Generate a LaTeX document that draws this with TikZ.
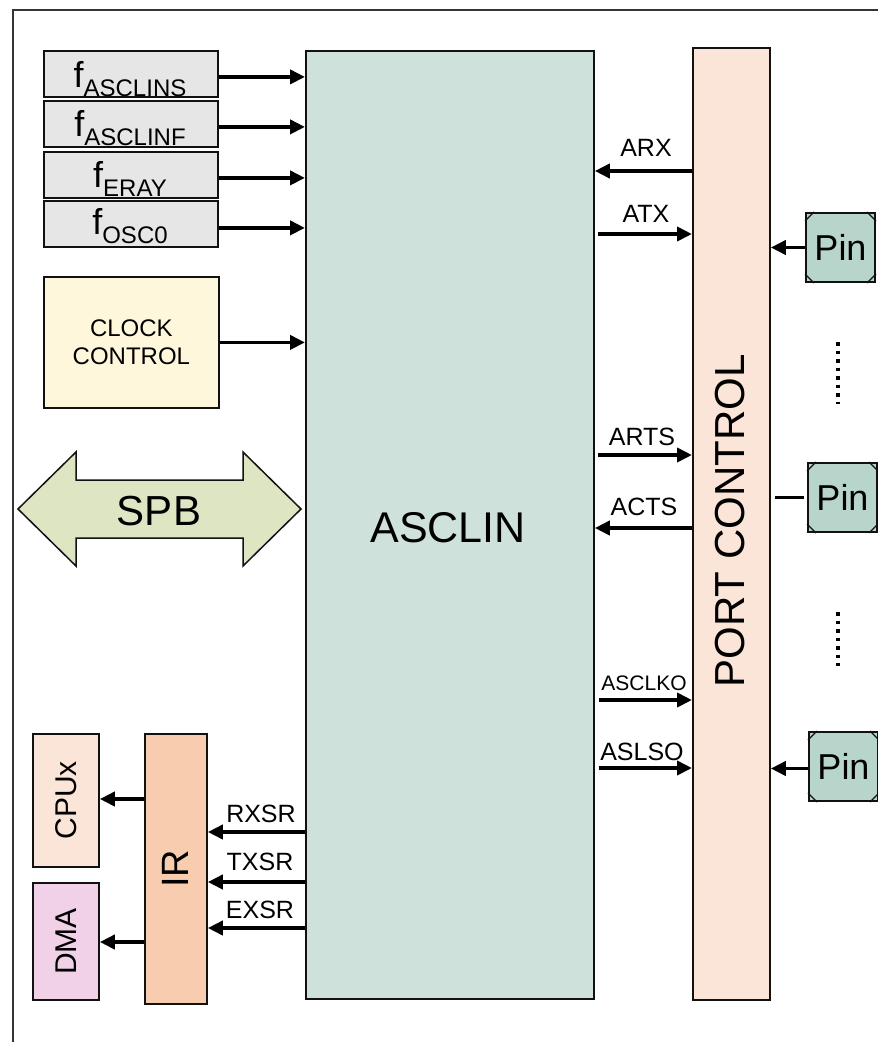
\documentclass[tikz,border=0pt]{standalone}
\usepackage{fontspec}
\setmainfont{Liberation Sans}
\usetikzlibrary{arrows.meta}
\definecolor{fgray}{HTML}{E6E6E6}
\definecolor{clk}{HTML}{FFF7DC}
\definecolor{spbc}{HTML}{DDE5C3}
\definecolor{asc}{HTML}{CEE2DB}
\definecolor{portc}{HTML}{FBE5D8}
\definecolor{pinc}{HTML}{B8D5CC}
\definecolor{irc}{HTML}{F8CCAE}
\definecolor{dmac}{HTML}{F1D1E7}
\definecolor{bord}{HTML}{111111}
\newcommand\fsubtxt[2]{\fontsize{36}{36}\selectfont #1\raisebox{-9pt}{\fontsize{24}{24}\selectfont #2}}
\begin{document}
\begin{tikzpicture}[x=1pt,y=-1pt,
 box/.style={draw=bord,line width=1.8pt,inner sep=0pt,anchor=north west},
 arr/.style={line width=3.8pt,-{Triangle[length=15pt,width=14pt]}},
 fnt/.style={font=\fontsize{#1}{#1}\selectfont},
 sig/.style={font=\fontsize{25}{25}\selectfont,anchor=base,inner sep=0pt},
 pinbox/.style={box,fill=pinc,draw=bord,line width=2pt,minimum width=69pt,minimum height=69pt,fnt=36},
 dots/.style={line width=3.5pt,dash pattern=on 3.5pt off 5pt}
]
\useasboundingbox (0,0) rectangle (878,1042);
% outer frame
\draw[line width=1.6pt,draw=bord!85] (878,10) -- (13,10) -- (13,1042);

% main blocks
\node[box,fill=asc,minimum width=288pt,minimum height=948pt] (asclin) at (305,50) {};
\node[fnt=43,anchor=base,inner sep=0pt] (asclintxt) at (448,542) {ASCLIN};
\node[box,fill=portc,minimum width=77pt,minimum height=952pt] (port) at (692,47) {};
\node[fnt=42,rotate=90,inner sep=0pt] (porttxt) at (730.5,521) {PORT CONTROL};

% clock sources
\node[box,fill=fgray,minimum width=174pt,minimum height=46pt] (fs) at (43,50) {};
\node[box,fill=fgray,minimum width=174pt,minimum height=46pt] (ff) at (43,100) {};
\node[box,fill=fgray,minimum width=174pt,minimum height=46pt] (fe) at (43,151) {};
\node[box,fill=fgray,minimum width=174pt,minimum height=46pt] (fo) at (43,200) {};
\node[anchor=base,inner sep=0pt] (fstxt) at (130,87) {\fsubtxt{f}{ASCLINS}};
\node[anchor=base,inner sep=0pt] (fftxt) at (130,136) {\fsubtxt{f}{ASCLINF}};
\node[anchor=base,inner sep=0pt] (fetxt) at (130,187) {\fsubtxt{f}{ERAY}};
\node[anchor=base,inner sep=0pt] (fotxt) at (130,234) {\fsubtxt{f}{OSC0}};
\draw[arr] ([yshift=-3pt]fs.east) -- ([yshift=-3pt]fs.east -| asclin.west);
\draw[arr] ([yshift=-3pt]ff.east) -- ([yshift=-3pt]ff.east -| asclin.west);
\draw[arr] ([yshift=-3pt]fe.east) -- ([yshift=-3pt]fe.east -| asclin.west);
\draw[arr] ([yshift=-4pt]fo.east) -- ([yshift=-4pt]fo.east -| asclin.west);

% clock control
\node[box,fill=clk,minimum width=175pt,minimum height=131pt,fnt=24,align=center] (clock) at (43,276) {CLOCK\\[4pt]CONTROL};
\draw[arr] (clock.east) -- (clock.east -| asclin.west);

% SPB
\draw[draw=bord,line width=1.5pt,fill=spbc] (18,509) -- (76,452) -- (76,480) -- (243,480) -- (243,452) -- (301,509) -- (243,566) -- (243,538) -- (76,538) -- (76,566) -- cycle;
\node[fnt=42,anchor=base,inner sep=0pt] (spb) at (159,525) {SPB};

% port signals
\draw[arr] (port.west |- 0,171) -- (asclin.east |- 0,171);
\node[sig] (arx) at (646,156) {ARX};
\draw[arr] ([xshift=3pt]asclin.east |- 0,234) -- (port.west |- 0,234);
\node[sig] (atx) at (646,222) {ATX};
\draw[arr] ([xshift=3pt]asclin.east |- 0,455) -- (port.west |- 0,455);
\node[sig] (arts) at (642,445) {ARTS};
\draw[arr] (port.west |- 0,528) -- (asclin.east |- 0,528);
\node[sig] (acts) at (644,515) {ACTS};
\draw[arr] ([xshift=4pt]asclin.east |- 0,700) -- (port.west |- 0,700);
\node[sig,font=\fontsize{21}{21}\selectfont] (asclko) at (644,690) {ASCLKO};
\draw[arr] ([xshift=4pt]asclin.east |- 0,768) -- (port.west |- 0,768);
\node[sig] (aslso) at (642,760) {ASLSO};

% pins
\node[pinbox] (p1) at (805,212) {Pin};
\node[pinbox] (p2) at (807,462) {Pin};
\node[pinbox] (p3) at (808,731) {Pin};
\foreach \p in {p1,p2,p3}{
  \draw[line width=1.2pt,draw=bord] ([yshift=-9pt]\p.north west) -- ([xshift=9pt]\p.north west);
  \draw[line width=1.2pt,draw=bord] ([yshift=-9pt]\p.north east) -- ([xshift=-9pt]\p.north east);
  \draw[line width=1.2pt,draw=bord] ([yshift=9pt]\p.south west) -- ([xshift=9pt]\p.south west);
  \draw[line width=1.2pt,draw=bord] ([yshift=9pt]\p.south east) -- ([xshift=-9pt]\p.south east);
}
\draw[arr] (p1.west) -- (p1.west -| port.east);
\draw[line width=3.8pt] ([xshift=-3pt]p2.west) -- ([xshift=4pt]p2.west -| port.east);
\draw[arr] ([yshift=-2pt]p3.west) -- ([yshift=-2pt]p3.west -| port.east);
\draw[dots] (838,342) -- (838,404);
\draw[dots] (838,612) -- (838,666);

% interrupt router
\node[box,fill=portc,minimum width=66pt,minimum height=133pt] (cpu) at (32,733) {};
\node[fnt=30,rotate=90,inner sep=0pt] (cputxt) at (cpu.center) {CPUx};
\node[box,fill=dmac,minimum width=66pt,minimum height=117pt] (dma) at (32,882) {};
\node[fnt=30,rotate=90,inner sep=0pt] (dmatxt) at (dma.center) {DMA};
\node[box,fill=irc,minimum width=62pt,minimum height=270pt] (ir) at (144,733) {};
\node[fnt=38,rotate=90,inner sep=0pt] (irtxt) at (ir.center) {IR};
\draw[arr] (ir.west |- 0,799) -- (cpu.east |- 0,799);
\draw[arr] (ir.west |- 0,942) -- (dma.east |- 0,942);
\draw[arr] (asclin.west |- 0,832) -- (ir.east |- 0,832);
\node[sig] (rxsr) at (261,822) {RXSR};
\draw[arr] (asclin.west |- 0,882) -- (ir.east |- 0,882);
\node[sig] (txsr) at (260,870) {TXSR};
\draw[arr] (asclin.west |- 0,928) -- (ir.east |- 0,928);
\node[sig] (exsr) at (260,918) {EXSR};
\end{tikzpicture}
\end{document}
